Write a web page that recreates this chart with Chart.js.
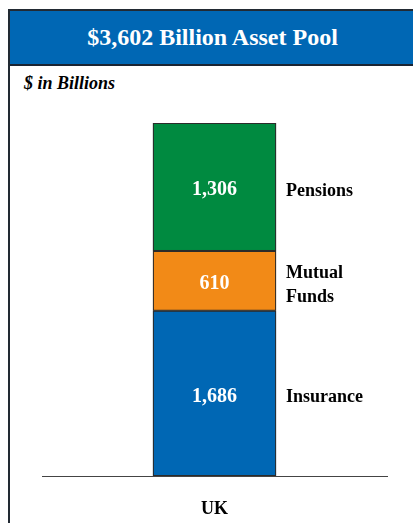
<!DOCTYPE html>
<html>
<head>
<meta charset="utf-8">
<script src="https://cdn.jsdelivr.net/npm/chart.js@4"></script>
<style>
  html, body { margin: 0; padding: 0; background: #fff; overflow: hidden; }
  body { width: 413px; height: 523px; position: relative; font-family: "Liberation Serif", "Times New Roman", serif; }
  .frame { position: absolute; left: 8px; top: 9px; width: 430px; height: 540px; border: 2px solid #222a33; }
  .header { height: 53px; background: #0067b4; border-bottom: 2px solid #1a2433; color: #fff; font-weight: bold; font-size: 24px; line-height: 53px; text-align: center; padding-right: 25px; }
  .unit { position: absolute; left: 24px; top: 73px; font-weight: bold; font-style: italic; font-size: 18px; color: #000; }
  #chart { position: absolute; left: 0; top: 0; }
</style>
</head>
<body>
<div class="frame"><div class="header">$3,602 Billion Asset Pool</div></div>
<div class="unit">$ in Billions</div>
<canvas id="chart" width="413" height="523"></canvas>
<script>
  const categories = ['UK'];
  const seriesNames = ['Insurance', 'Mutual\nFunds', 'Pensions'];
  const insurance = [1686];
  const mutualFunds = [610];
  const pensions = [1306];
  const colors = ['#0067b4', '#f28a17', '#008a40'];

  const serif = '"Liberation Serif", "Times New Roman", serif';

  const sideLabels = {
    id: 'sideLabels',
    afterDatasetsDraw(chart) {
      const ctx = chart.ctx;
      ctx.save();
      chart.data.datasets.forEach((ds, i) => {
        const bar = chart.getDatasetMeta(i).data[0];
        const midY = (bar.y + bar.base) / 2;
        // thin dark edge between segments
        ctx.strokeStyle = '#2b2b2b';
        ctx.lineWidth = 1;
        ctx.strokeRect(bar.x - bar.width / 2 + 0.5, bar.y + 0.5, bar.width - 1, bar.base - bar.y - 1);
        // value inside the bar
        ctx.fillStyle = '#fff';
        ctx.font = 'bold 20px ' + serif;
        ctx.textAlign = 'center';
        ctx.textBaseline = 'middle';
        ctx.fillText(ds.data[0].toLocaleString('en-US'), bar.x, midY + 3);
        // series name to the right
        ctx.fillStyle = '#000';
        ctx.font = 'bold 18px ' + serif;
        ctx.textAlign = 'left';
        const lines = seriesNames[i].split('\n');
        const lh = 24;
        lines.forEach((ln, k) => {
          ctx.fillText(ln, bar.x + bar.width / 2 + 10, midY + 4 + (k - (lines.length - 1) / 2) * lh);
        });
      });
      ctx.restore();
    }
  };

  const data = {
    labels: categories,
    datasets: [
      { label: 'Insurance', data: insurance, backgroundColor: colors[0] },
      { label: 'Mutual Funds', data: mutualFunds, backgroundColor: colors[1] },
      { label: 'Pensions', data: pensions, backgroundColor: colors[2] }
    ].map(d => Object.assign(d, {
      borderWidth: 0,
      barPercentage: 1,
      categoryPercentage: 0.357
    }))
  };

  const config = {
    type: 'bar',
    data: data,
    options: {
      responsive: false,
      animation: false,
      layout: { padding: { left: 42, right: 26, top: 123, bottom: 5 } },
      plugins: {
        legend: { display: false },
        tooltip: { enabled: false }
      },
      scales: {
        x: {
          stacked: true,
          grid: { display: false, drawTicks: false },
          border: { display: true, color: '#444', width: 1 },
          ticks: { color: '#000', padding: 23, font: { family: serif, size: 18, weight: 'bold' } },
          afterFit(scale) { scale.height = 42; }
        },
        y: {
          stacked: true,
          display: false,
          min: 0,
          max: 3602
        }
      }
    },
    plugins: [sideLabels]
  };

  new Chart(document.getElementById('chart'), config);
</script>
</body>
</html>
